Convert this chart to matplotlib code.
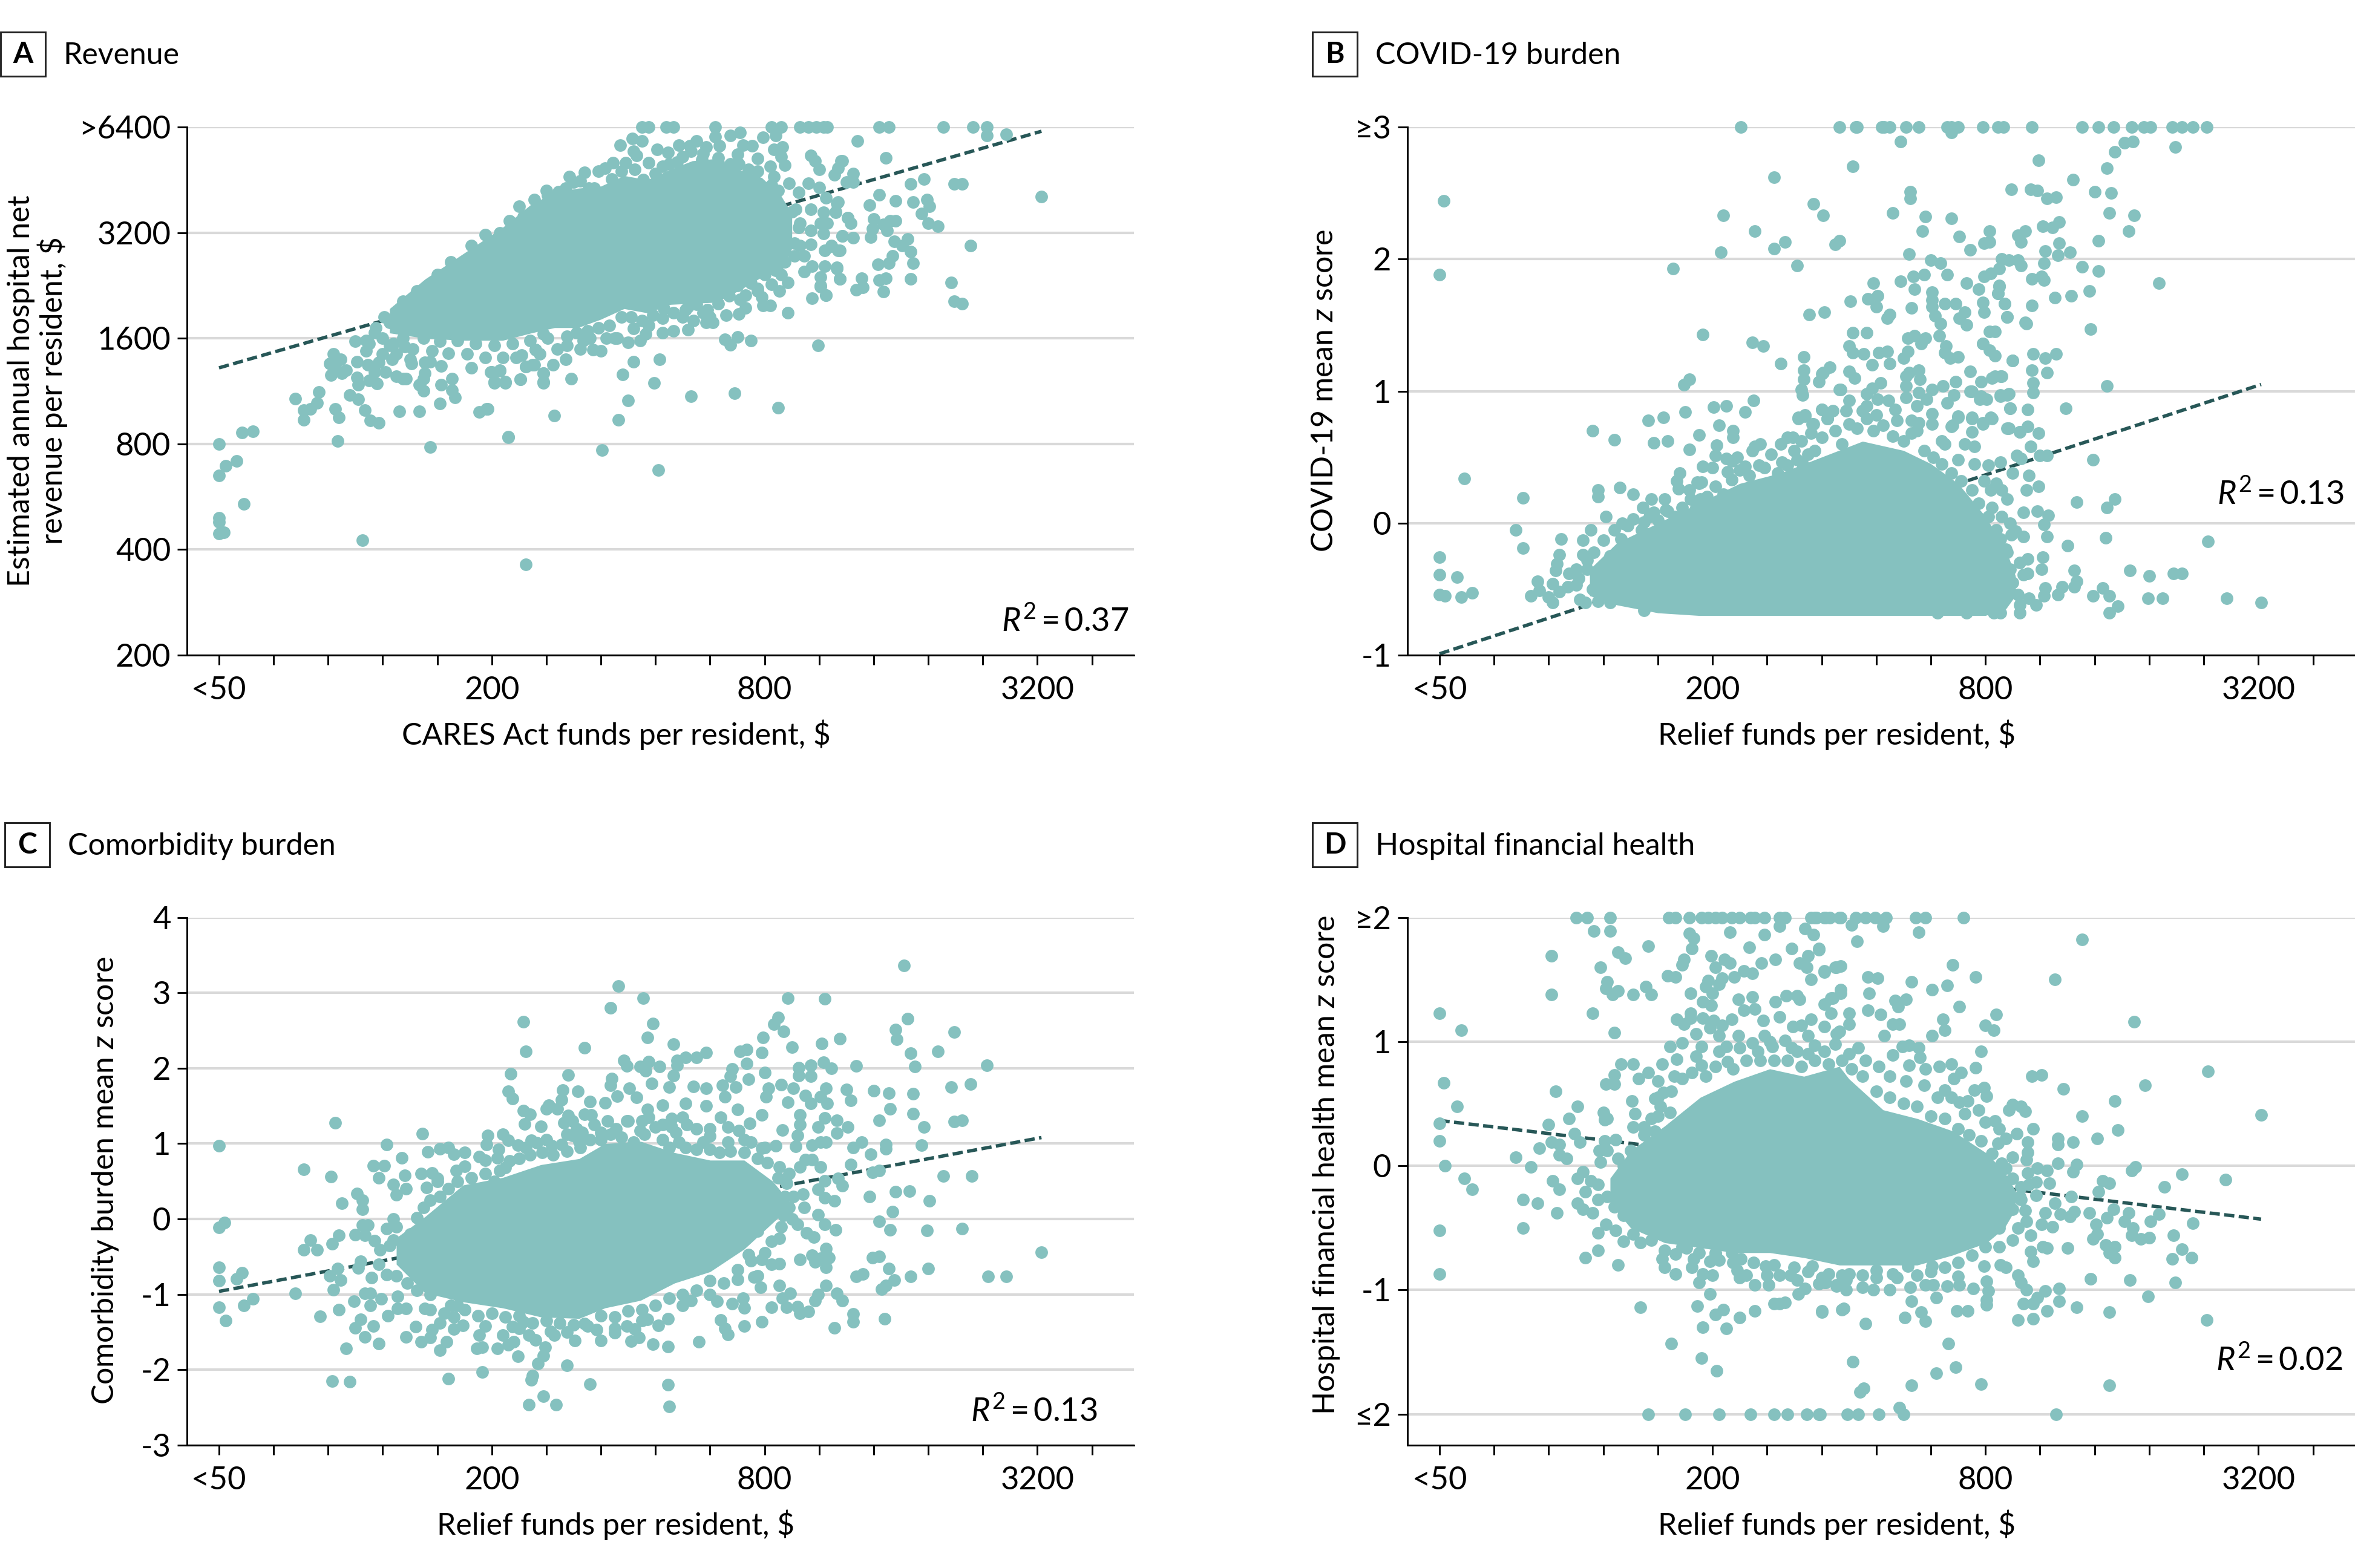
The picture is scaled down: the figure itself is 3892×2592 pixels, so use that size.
import numpy as np
import matplotlib
matplotlib.use("Agg")
import matplotlib.pyplot as plt
from matplotlib.patches import Rectangle

W, H = 3892, 2592
TEAL = "#85c1bf"
DARK = "#275757"

plt.rcParams["font.family"] = ["Lato", "Open Sans", "DejaVu Sans"]
plt.rcParams["mathtext.fontset"] = "custom"
plt.rcParams["mathtext.rm"] = "Lato"
plt.rcParams["mathtext.it"] = "Lato:italic"

# all funds / revenue values are kept as doublings: funds = 50 * 2**u, revenue = 200 * 2**v
x_ticks_u = [0, 2, 4, 6]
x_ticklabels = ["<50", "200", "800", "3200"]
minor_u = [0.4, 0.8, 1.2, 1.6, 2.4, 2.8, 3.2, 3.6, 4.4, 4.8, 5.2, 5.6, 6.4]

# panel A: (u, v)
a_points = [(0,2.0),(0,1.70),(.05,1.79),(.13,1.84),(.17,2.11),(.25,2.12),(0,1.30),(0,1.26),(0,1.15),(.035,1.16),(.18,1.43),(1.05,1.09),(2.25,.86),(.87,2.03),(1.55,1.97),(2.12,2.06),(.56,2.43),(.73,2.49),(.72,2.39),(.67,2.33),(.62,2.32),(.62,2.23),(.85,2.33),(.88,2.25),(.96,2.46),(1.02,2.42),(1.07,2.32),(1.11,2.22),(1.17,2.20),(1.32,2.31),(1.47,2.31),(1.62,2.38),(1.73,2.44),(1.71,2.51),(1.71,2.62),(1.63,2.56),(1.63,2.74),(1.50,2.50),(1.47,2.56),(1.50,2.62),(1.51,2.67),(1.91,2.30),(1.96,2.33),(2.21,2.61),(2.02,2.58),(2.10,2.58),(2.0,2.68),(2.06,2.69),(2.25,2.73),(2.31,2.75),(2.32,2.89),(2.38,2.58),(2.38,2.67),(.82,2.65),(.90,2.67),(.81,2.76),(.84,2.85),(.89,2.80),(.85,2.73),(.93,2.70),(1.01,2.78),(1.0,2.97),(1.08,2.88),(1.08,2.98),(1.01,2.63),(1.02,2.56),(1.16,2.57),(1.10,2.60),(1.14,2.68),(1.22,2.68),(1.09,2.75),(1.17,2.77),(1.30,2.64),(1.35,2.62),(1.37,2.62),(1.27,2.80),(1.41,2.76),(1.36,2.92),(1.25,2.93),(1.14,3.05),(1.21,3.20),(1.51,2.77),
 (3.10,5),(3.15,5),(3.28,5),(3.33,5),(3.64,5),(4.05,5),(4.12,5),(4.26,5),(4.32,5),(4.38,5),(4.46,5),(4.43,5),(4.84,5),(4.91,5),(5.31,5),(5.53,5),(5.63,5),
 (2.94,4.83),(3.03,4.89),(3.10,4.87),(3.04,4.77),(3.06,4.73),(3.64,4.91),(3.82,4.95),(3.75,4.92),(3.99,4.90),(4.08,4.92),(4.13,4.81),(4.34,4.73),(4.37,4.68),(4.40,4.60),(4.56,4.68),(4.51,4.55),(4.60,4.48),(4.25,4.38),(4.32,4.47),(4.40,4.43),(4.45,4.33),(4.54,4.29),(4.52,4.20),(4.23,4.22),(4.34,4.22),(4.43,4.19),(4.61,4.14),(4.41,4.09),(4.26,4.09),(4.34,4.02),(4.46,4.09),(4.43,3.99),(4.57,3.97),(4.26,3.88),(4.34,3.89),(4.44,3.83),(4.49,3.88),(4.55,3.83),(4.29,3.78),(4.29,3.63),(4.35,3.68),(4.44,3.68),(4.41,3.58),(4.53,3.67),(4.55,3.56),(4.41,3.50),(4.45,3.41),(4.35,3.38),(4.17,3.24),(4.39,2.93),(3.90,2.98),(3.80,3.01),(3.75,2.94),(3.71,2.99),
 (4.10,2.34),(3.78,2.48),(3.46,2.45),(3.23,2.80),(3.04,2.78),(2.96,2.66),(3.19,2.58),(3.0,2.41),(2.93,2.23),(2.81,1.94),(3.22,1.75),(2.46,2.27),(2.12,2.07),(1.97,2.33),(2.58,2.62),(2.38,2.59),(2.38,2.67),(2.21,2.61),(2.10,2.59),(2.02,2.59),(2.06,2.70),(1.99,2.68),(2.25,2.73),(2.30,2.75),(2.54,2.80),(2.55,2.93),(2.32,2.89),(2.38,3.04),(2.74,2.89),(2.80,2.88),(2.67,2.98),(2.72,3.0),(2.84,3.0),(2.92,3.0),(3.0,2.96),(3.09,2.98),(3.13,3.04),(3.04,3.09),(3.25,3.05),(3.33,3.07),(3.25,3.19),(3.44,3.08),(3.48,3.17),(3.57,3.15),(3.62,3.15),(3.55,3.24),(3.44,3.30),(3.81,3.23),(3.86,3.29),(3.99,3.31),(4.04,3.31),(3.98,3.39),(3.95,3.47),(4.11,3.45),(4.17,3.53),(4.05,3.51),(3.80,3.50),(3.86,3.41),(3.93,3.72),(3.86,3.61),
 (2.57,4.53),(2.68,4.57),(2.65,4.49),(2.78,4.58),(2.83,4.61),(2.89,4.66),(2.98,4.66),(2.88,4.51),(3.11,4.50),(3.21,4.79),(3.29,4.76),(3.37,4.83),(3.45,4.82),(3.50,4.87),(3.46,4.77),(3.57,4.81),(3.67,4.82),(3.36,4.67),(3.15,4.66),(3.25,4.63),(3.20,4.56),(3.54,4.69),(3.66,4.71),(3.66,4.66),(3.84,4.83),(3.91,4.82),(3.80,4.74),(3.81,4.65),(3.95,4.70),(4.07,4.79),(4.12,4.72),(4.04,4.63),(4.15,4.64),(4.07,4.53),(4.18,4.47),(4.10,4.40),(2.41,4.35),(2.49,4.39),(2.31,4.31),(2.13,4.11),(2.23,4.15),(2.06,4.0),(2.54,4.42),(2.71,4.42),(2.75,4.42),
 (5.77,4.93),(5.63,4.92),(4.68,4.87),(4.89,4.71),(4.57,4.68),(4.54,4.61),(4.65,4.56),(4.65,4.48),(5.07,4.46),(5.17,4.51),(5.39,4.46),(5.45,4.46),(6.03,4.34),(4.84,4.36),(4.96,4.30),(5.09,4.29),(5.19,4.31),(5.21,4.25),(4.77,4.26),(4.53,4.28),(4.52,4.19),(4.61,4.14),(4.63,4.09),(4.80,4.13),(4.79,4.04),(5.15,4.18),(5.20,4.09),(5.27,4.06),(4.87,4.08),(4.92,4.11),(4.96,4.11),(4.90,4.02),(4.78,3.96),(4.65,3.95),(4.57,3.97),(5.51,3.88),(4.95,3.92),(5.05,3.94),(5.01,3.88),(5.07,3.82),(5.09,3.71),(4.94,3.78),(4.91,3.71),(4.83,3.70),(4.54,3.83),(4.49,3.87),(4.53,3.66),(4.55,3.56),(5.07,3.56),(5.37,3.53),(5.39,3.35),(5.45,3.33),(4.89,3.57),(4.84,3.55),(4.87,3.44),(4.71,3.57),(4.67,3.46),(4.72,3.48),(4.45,3.41),(4.41,3.49)]
# points on the ragged rim of the core
a_rim = [(1.28,2.95),(1.35,3.0),(1.42,2.9),(1.5,3.0),(1.56,2.88),(1.62,2.97),(1.68,2.86),(1.75,2.98),(1.82,2.85),(1.88,2.95),(1.95,2.82),(2.02,2.93),(2.08,2.82),(2.15,2.95),(2.22,2.84),(2.28,2.98),(2.35,2.85),(2.41,3.0),(2.48,2.9),(2.55,3.02),(2.62,3.05),(2.7,3.07),(2.78,3.1),(2.86,3.12),(2.95,3.2),(3.02,3.2),(3.1,3.17),(3.18,3.22),(3.26,3.28),(3.33,3.24),(3.42,3.27),(3.5,3.32),(3.58,3.27),(3.66,3.33),(3.74,3.4),(3.82,3.37),(3.9,3.52),(4.0,3.6),(4.08,3.64),(4.15,3.72),(4.22,3.9),(4.25,4.05),(4.2,4.2),(4.22,3.78),(1.15,3.1),(1.2,3.0),(1.1,2.95),(1.3,2.85),(1.4,2.8),(1.25,3.15),(1.35,3.35),(1.45,3.45),(1.6,3.6),(1.7,3.72),(1.85,3.88),(1.95,3.98),(2.2,4.25),(2.4,4.4),(2.6,4.48),(2.95,4.58),(3.05,4.6),(3.3,4.65),(3.4,4.72),(3.55,4.75),(3.75,4.65),(3.88,4.6),(3.95,4.58),(4.05,4.45),
 (1.2,2.85),(1.55,2.78),(1.85,2.72),(2.18,2.82),(2.45,2.75),(2.65,2.9),(2.9,3.0),(3.15,3.12),(3.4,3.2),(3.6,3.2),(3.72,3.22),(3.95,3.45),(4.12,3.6)]
# panel A: solid overplotted core, lower and upper edge per u
a_core_u = [1.25, 1.51, 1.79, 2.08, 2.29, 2.46, 2.63, 2.80, 2.97, 3.14, 3.31, 3.47, 3.64, 3.81, 3.98, 4.12, 4.2]
a_core_lo = [3.05, 3.0, 2.98, 2.98, 3.05, 3.10, 3.10, 3.18, 3.28, 3.24, 3.32, 3.33, 3.34, 3.45, 3.58, 3.62, 3.85]
a_core_hi = [3.28, 3.56, 3.80, 4.05, 4.27, 4.38, 4.42, 4.44, 4.54, 4.50, 4.60, 4.68, 4.70, 4.60, 4.52, 4.35, 4.18]
a_trend_u = [0, 6.03]
a_trend_v = [2.72, 4.96]

# panel B: (u, z)
b_points = [(2.21,3),(2.93,3),(3.06,3),(3.26,3),(3.30,3),(3.42,3),(3.51,3),(3.75,3),(3.80,3),(3.72,3),(3.98,3),(4.09,3),(4.13,3),(4.34,3),(4.71,3),(4.83,3),(4.94,3),(5.07,3),(5.16,3),(5.21,3),(5.37,3),(5.44,3),(5.52,3),(5.62,3),(3.05,3),(3.24,3),(3.75,2.96),(3.38,2.89),
 (.03,2.44),(0,1.88),(.18,.34),(.61,.19),(.56,-.05),(.61,-.19),(0,-.26),(0,-.39),(.13,-.41),(0,-.54),(.04,-.55),(.16,-.56),(.24,-.53),(.67,-.55),(.72,-.44),(.73,-.51),(.83,-.46),(.80,-.56),(.83,-.60),(.88,-.52),(.94,-.48),(.85,-.36),(.86,-.31),(.88,-.24),(.89,-.12),(1.05,-.13),(1.05,-.24),(1.13,-.22),(1.11,-.05),(1.22,.05),(1.0,-.35),(1.08,-.35),(1.0,-.47),(1.03,-.58),(1.07,-.60),(1.16,-.59),(1.16,.25),(1.16,.20),(1.12,.70),(1.28,.63),(1.32,.27),(1.42,.22),(1.34,0),(1.49,.12),(1.55,.18),(1.50,.01),(1.57,.08),(1.65,.18),(1.67,.09),(1.53,.78),(1.64,.80),(1.57,.61),(1.67,.62),(1.71,1.93),(1.79,1.05),(1.83,1.09),(1.80,.84),(1.83,.56),(1.90,.67),(1.93,1.43),(2.01,.88),(2.10,.89),(2.05,.74),(2.15,.70),(2.15,.65),(2.06,2.05),(2.08,2.33),(1.76,.38),(1.74,.32),(1.75,.26),(1.84,.18),(1.91,.18),(1.93,.43),(1.89,.31),(1.92,.31),(2.03,.59),(2.02,.51),(2.10,.49),(2.14,.47),(2.11,.39),(2.24,.84),(2.30,.93),(2.31,2.21),(2.29,1.37),(2.37,1.34),(2.45,2.08),(2.53,2.13),(2.45,2.62),(2.50,1.21),(2.62,1.95),(2.74,2.42),(2.81,2.33),(2.90,2.11),(2.93,2.14),(2.71,1.58),(2.82,1.60),(2.67,1.26),(2.67,1.16),(2.67,1.09),(2.65,1.01),(2.66,.97),(2.78,1.07),(2.81,1.14),(2.86,1.18),(2.93,1.01),(2.63,.80),(2.68,.81),(2.80,.86),(2.84,.79),(2.50,.60),(2.59,.65),(2.29,.55),(2.31,.58),(2.73,.75),(2.72,.68),(2.51,.46),(2.62,.48),(2.70,.52),(2.24,.43),(2.34,.44),
 (3.03,2.70),(3.45,2.51),(3.45,2.46),(4.19,2.53),(3.32,2.35),(3.56,2.32),(3.54,2.21),(3.75,2.31),(3.81,2.17),(4.03,2.21),(4.03,2.13),(3.99,2.12),(3.89,2.07),(4.24,2.18),(4.29,2.21),(4.26,2.13),(3.44,2.04),(3.60,1.99),(3.67,1.97),(3.72,1.88),(3.55,1.88),(3.47,1.87),(3.38,1.83),(3.48,1.77),(3.18,1.82),(3.21,1.72),(3.14,1.70),(3.20,1.64),(3.01,1.68),(3.86,1.82),(3.61,1.75),(3.61,1.69),(3.61,1.64),(3.63,1.57),(3.70,1.66),(3.78,1.66),(3.85,1.60),(3.81,1.55),(3.86,1.50),(3.67,1.51),(3.46,1.63),(3.30,1.58),(3.28,1.55),(3.03,1.44),(3.13,1.44),(3.0,1.34),(3.03,1.29),(3.11,1.28),(3.22,1.29),(3.28,1.30),(3.17,1.20),(3.30,1.21),(3.43,1.40),(3.48,1.42),(3.56,1.40),(3.53,1.36),(3.43,1.30),(3.40,1.25),(3.66,1.42),(3.71,1.34),(3.70,1.29),(3.74,1.25),(3.80,1.26),(3.98,1.36),(4.03,1.31),(4.07,1.27),(4.03,1.45),(4.07,1.45),(4.10,1.80),(4.09,1.74),(3.98,1.67),(3.99,1.60),(4.14,1.66),(4.16,1.56),(3.95,1.77),(3.99,1.87),(4.04,1.89),(4.10,1.93),(4.12,2.0),(4.17,1.99),(4.24,1.99),(4.26,1.95),(4.29,1.52),(4.20,1.23),(3.89,1.15),(3.78,1.07),(3.97,1.07),(4.07,1.11),(4.12,1.11),(3.0,1.15),(3.04,1.10),(2.94,1.01),(2.80,1.13),(3.44,1.14),(3.51,1.16),(3.42,1.11),(3.52,1.09),(3.42,1.04),(3.51,.99),(3.42,.95),(3.57,.94),(3.61,1.01),(3.69,1.04),(3.77,.97),(3.72,.91),(3.61,.83),(3.50,.89),(3.51,.76),(3.46,.78),(3.61,.75),(3.89,1.0),(3.96,.94),(4.01,.94),(4.11,.96),(4.17,.98),(4.18,.87),(3.80,.81),(3.76,.74),(3.90,.79),(3.98,.76),(4.05,.79),(3.90,.69),(4.17,.72),(4.25,.69),(3.13,.98),(3.17,1.02),(3.23,1.06),(3.13,.89),(3.13,.79),(3.21,.94),(3.29,.93),(3.34,.86),(3.0,.93),(2.80,.86),(2.84,.79),(2.63,.79),(2.68,.82),(2.74,.75),
 (5.39,2.85),(5.08,2.89),(5.02,2.88),(4.95,2.81),(4.89,2.69),(4.39,2.75),(4.64,2.60),(4.33,2.53),(4.38,2.52),(4.45,2.46),(4.52,2.47),(4.80,2.51),(4.92,2.50),(4.91,2.35),(5.09,2.33),(5.05,2.21),(4.83,2.14),(4.42,2.25),(4.49,2.24),(4.54,2.28),(4.54,2.12),(4.44,2.06),(4.53,2.03),(4.62,2.05),(4.43,1.97),(4.71,1.94),(4.83,1.91),(5.27,1.82),(4.34,1.85),(4.41,1.87),(4.43,1.84),(4.76,1.76),(4.51,1.71),(4.63,1.72),(4.34,1.65),(4.77,1.47),(4.30,1.51),(4.16,1.56),(4.14,1.66),(4.09,1.74),(4.10,1.79),(4.35,1.28),(4.52,1.28),(4.44,1.25),(4.20,1.23),(3.98,1.36),(4.34,1.16),(4.45,1.14),(4.35,1.06),(4.35,.99),(4.31,.86),(4.59,.87),(4.89,1.04),(4.11,1.11),(4.05,1.10),(4.11,.97),(4.16,.97),(4.18,.87),(3.97,.96),(3.90,1.0),(3.90,.80),(3.98,.75),(4.04,.80),(3.80,.80),(3.75,.73),(4.16,.72),(4.25,.69),(4.31,.73),(4.39,.68),(4.33,.58),(4.40,.51),(4.45,.51),(4.23,.51),(4.26,.49),(4.11,.46),(4.02,.44),(4.20,.38),(4.32,.36),(4.39,.28),(4.30,.25),(4.16,.18),(4.12,.25),(4.04,.25),(3.99,.32),(4.67,.16),(4.89,.12),(4.95,.18),(4.79,.48),(4.28,.08),(4.38,.09),(4.46,.06),(4.43,-.01),(4.45,-.10),(4.22,-.06),(4.19,-.09),(4.11,-.12),(4.88,-.11),(4.60,-.17),(5.63,-.14),(4.16,-.22),(4.31,-.27),(4.42,-.26),(4.28,-.39),(4.31,-.38),(4.41,-.35),(4.65,-.36),(5.06,-.36),(5.20,-.40),(5.38,-.38),(5.44,-.38),(4.44,-.49),(4.43,-.55),(4.53,-.54),(4.56,-.48),(4.65,-.48),(4.67,-.44),(4.79,-.55),(4.86,-.49),(4.91,-.55),(5.19,-.57),(5.30,-.57),(5.77,-.57),(6.02,-.60),(4.91,-.68),(4.97,-.63),(4.37,-.62),(4.32,-.57),(4.24,-.54),(4.25,-.68),(4.25,-.62),(4.06,-.68),(4.11,-.68),(4.01,-.63),(3.86,-.68),(3.65,-.68),(4.16,-.51)]
b_rim = [(.95,-.38),(1.02,-.42),(1.08,-.28),(1.12,-.5),(1.17,-.38),(1.2,-.13),(1.25,-.25),(1.28,-.05),(1.33,-.12),(1.38,-.02),(1.42,.03),(1.48,-.05),(1.54,.05),(1.6,.02),(1.66,.1),(1.72,.05),(1.78,.12),(1.83,.25),(1.88,.12),(1.96,.2),(2.02,.28),(2.08,.22),(2.14,.33),(2.2,.4),(2.27,.36),(2.38,.42),(2.43,.52),(2.48,.38),(2.55,.44),(2.6,.55),(2.66,.45),(2.75,.55),(2.8,.65),(2.9,.7),(2.95,.6),(3.0,.75),(3.06,.72),(3.18,.7),(3.25,.74),(3.32,.66),(3.4,.62),(3.46,.68),(3.55,.55),(3.62,.5),(3.68,.45),(3.75,.38),(3.82,.32),(3.9,.25),(3.95,.15),(4.02,.05),(4.08,-.05),(4.15,-.2),(4.18,-.35),(4.2,-.45),(4.12,.05),(3.85,.6),(3.7,.6),(4.05,.12),(1.25,-.6),(1.5,-.66),(1.2,-.42),
 (1.9,.3),(2.0,.42),(2.18,.5),(2.35,.6),(2.55,.65),(2.65,.62),(2.88,.85),(2.98,.85),(3.1,.85),(3.2,.82),(3.35,.78),(3.5,.7),(3.68,.62),(3.8,.48),(3.92,.45),(4.08,.3),(4.18,.0),(4.25,-.3),(4.28,-.1),(3.92,.58)]
b_core_u = [1.1, 1.3, 1.6, 1.9, 2.2, 2.5, 2.8, 3.1, 3.4, 3.6, 3.8, 4.0, 4.15, 4.22]
b_core_lo = [-.55, -.62, -.68, -.70, -.70, -.70, -.70, -.70, -.70, -.70, -.70, -.70, -.65, -.55]
b_core_hi = [-.35, -.15, 0, .15, .30, .38, .50, .62, .55, .45, .30, .05, -.20, -.40]
b_trend_u = [0, 6.02]
b_trend_z = [-.99, 1.05]

# panel C: (u, z)
c_points = [(0,.97),(0,-.11),(.04,-.05),(0,-.64),(0,-.82),(.17,-.71),(.13,-.79),(0,-1.17),(.05,-1.35),(.18,-1.15),(.25,-1.06),(.56,-.99),(.62,.66),(.67,-.28),(.62,-.41),(.72,-.41),(.82,.56),(.85,1.28),(.83,-.33),(.88,-.22),(.90,.21),(.81,-.75),(.87,-.66),(.89,-.81),(.84,-.94),(.74,-1.29),(.88,-1.20),(.99,-1.09),(.93,-1.72),(.83,-2.15),(.96,-2.16),(1.01,.34),(1.05,.25),(1.05,.13),(1.13,.71),(1.21,.71),(1.17,.55),(1.23,.99),(1.0,-.21),(1.05,-.08),(1.09,-.08),(1.07,-.22),(1.14,-.29),(1.04,-.56),(1.02,-.65),(1.12,-.78),(1.17,-.60),(1.07,-.99),(1.11,-.99),(1.11,-1.15),(1.19,-1.06),(1.04,-1.33),(1.0,-1.44),(1.07,-1.56),(1.13,-1.42),(1.17,-1.65),(1.23,-.13),(1.28,-.28),(1.18,-.41),(1.23,-.74),(1.28,0),(1.28,.46),(1.30,.32),(1.37,.40),(1.34,.81),(1.36,.58),(1.49,1.13),(1.53,.89),(1.48,.60),(1.56,.61),(1.60,.54),(1.52,.42),(1.62,.93),(1.68,.95),(1.72,.86),(1.80,.88),(1.74,.64),(1.91,.83),(1.97,1.11),(1.96,.99),(2.08,1.12),(2.12,1.04),(2.19,.98),(2.04,.81),(2.13,.77),(2.06,.64),(2.23,2.62),(2.25,2.22),(2.14,1.93),(2.12,1.69),(2.15,1.60),(2.23,1.44),(2.28,1.39),(2.24,1.26),(2.36,1.23),(2.29,1.04),(2.33,1.01),(2.40,1.46),(2.42,1.51),(2.48,1.46),(2.56,1.91),(2.52,1.71),(2.51,1.58),(2.68,2.27),(2.63,1.69),(2.72,1.56),(2.56,1.37),(2.53,1.28),(2.59,1.30),(2.68,1.39),(2.73,1.38),(2.83,1.54),(2.59,1.11),(2.66,1.15),(2.80,1.15),(2.64,1.03),(2.44,.97),(2.51,.99),
 (1.31,-1.03),(1.24,-1.28),(1.31,-1.19),(1.37,-1.19),(1.44,-1.43),(1.37,-1.56),(1.48,-1.63),(1.55,-1.57),(1.56,-1.47),(1.51,-1.19),(1.62,-1.38),(1.62,-1.74),(1.67,-1.63),(1.68,-2.12),(1.72,-1.46),(1.75,-1.15),(1.79,-1.41),(1.93,-2.03),(1.91,-1.54),(1.89,-1.72),(1.93,-1.70),(2.04,-1.72),(2.08,-1.54),(2.12,-1.67),(2.16,-1.63),(2.19,-1.82),(2.15,-1.43),(2.23,-1.36),(2.27,-1.54),(2.32,-1.60),(2.39,-1.70),(2.38,-1.81),(2.34,-1.92),(2.30,-2.08),(2.29,-2.13),(2.27,-2.46),(2.38,-2.35),(2.47,-2.46),(2.55,-1.94),(2.72,-2.19),(2.61,-1.61),(2.80,-1.61),(2.43,-1.49),(2.46,-1.54),(2.77,-1.47),(2.68,-1.39),
 (5.02,3.36),(2.93,3.09),(3.11,2.93),(2.87,2.80),(4.17,2.93),(4.44,2.92),(3.18,2.59),(3.14,2.41),(3.33,2.32),(3.57,2.21),(3.50,2.14),(3.42,2.14),(3.36,2.10),(3.36,2.04),(2.97,2.10),(2.99,2.03),(3.09,2.02),(3.15,2.09),(3.13,1.97),(3.23,2.02),(2.88,1.86),(2.87,1.77),(3.01,1.73),(3.06,1.61),(2.92,1.63),(3.17,1.80),(3.33,1.90),(3.30,1.75),(3.48,1.76),(3.57,1.73),(3.69,1.77),(3.71,1.62),(3.82,2.22),(3.87,2.25),(3.98,2.21),(3.99,2.41),(3.87,2.06),(3.76,1.99),(3.75,1.89),(3.88,1.85),(3.79,1.75),(4.0,1.94),(4.03,1.73),(4.01,1.62),(4.12,1.78),(4.21,1.73),(4.07,2.58),(4.10,2.67),(4.14,2.49),(4.20,2.28),(4.42,2.33),(4.55,2.39),(4.25,2.01),(4.34,2.04),(4.43,2.08),(4.49,2.0),(4.67,2.03),(4.25,1.90),(4.34,1.89),(4.45,1.73),(4.60,1.72),(4.80,1.70),(4.91,1.67),(4.63,1.57),(4.30,1.64),(4.41,1.62),(4.46,1.53),(4.17,1.55),(4.34,1.53),(4.53,1.31),(4.61,1.22),(4.53,1.14),(4.44,1.34),(4.39,1.22),(4.26,1.38),(4.26,1.25),(4.24,1.11),(4.35,.98),(4.41,1.02),(4.45,1.02),(4.23,.96),(4.65,.95),(4.71,1.02),(4.78,.86),(4.89,.99),(4.89,.93),(5.15,.98),(4.92,1.46),(4.84,1.31),(5.09,1.40),(5.17,1.22),(5.09,1.66),(5.37,1.75),(5.51,1.79),(5.63,2.04),(5.39,2.48),(5.27,2.22),(5.07,2.20),(5.10,2.02),(5.05,2.66),(4.96,2.51),(4.97,2.38),(5.39,1.29),(5.45,1.31),(5.31,.57),(5.52,.57),(4.63,.72),(4.79,.62),(4.84,.64),(4.41,.69),(4.26,.69),(4.30,.79),(4.35,.79),(4.44,.51),(4.54,.54),(4.57,.44),(4.77,.30),(4.96,.36),(5.06,.37),(5.21,.24),(4.94,.10),(4.84,-.03),(4.92,-.14),(5.19,-.15),(5.45,-.13),(6.03,-.44),(4.44,.28),(4.51,.24),(4.39,.39),(4.28,.33),(4.29,.15),(4.21,.30),(4.16,.47),(4.39,.06),(4.44,-.07),(4.52,-.14),(4.24,-.07),(4.31,-.18),(4.36,-.24),(4.45,-.39),(4.35,-.48),(4.41,-.52),(4.47,-.51),(4.37,-.57),(4.45,-.64),(4.26,-.54),(4.79,-.51),(4.84,-.50),(4.91,-.66),(5.07,-.76),(5.20,-.66),(5.64,-.76),(5.77,-.76),(4.67,-.76),(4.72,-.73),(4.95,-.81),(4.89,-.88),(4.86,-.93),(4.45,-.88),(4.39,-1.0),(4.37,-1.08),(4.53,-.99),(4.57,-1.08),(4.19,-.99),(4.13,-1.05),(4.24,-1.16),(4.16,-1.17),(4.05,-1.17),(4.26,-1.25),(4.32,-1.23),(3.98,-1.36),(3.85,-1.42),(3.85,-1.18),(3.84,-1.05),(3.76,-1.12),(3.65,-1.09),(3.68,-1.34),(3.71,-1.45),(3.73,-1.53),(3.52,-1.63),(3.46,-1.08),(3.29,-1.32),(3.14,-1.33),(3.22,-1.41),(2.99,-1.42),(3.05,-1.46),(3.08,-1.57),(3.02,-1.62),(2.90,-1.51),(3.18,-1.66),(3.29,-1.69),(3.29,-2.20),(3.30,-2.49),(4.51,-1.44),(4.65,-1.36),(4.65,-1.26),(4.88,-1.32),(3.97,-.91),(4.11,-.88),(3.92,-.77),(4.11,-.59),(3.98,-.54),(3.80,-.67),(3.88,-.47),(4.11,-.26),(3.95,-.16),(4.14,.05),(4.0,.07),(3.99,.35),(4.11,.69),
 (3.98,1.38),(4.13,1.18),(3.89,1.27),(3.81,1.17),(3.73,1.22),(3.60,1.20),(3.50,1.20),(3.43,1.25),(3.32,1.22),(3.20,1.22),(3.09,1.17),(2.99,1.30),(2.91,1.20),(3.25,1.51),(3.42,1.53),(3.57,1.50),(3.80,1.45),(3.14,1.45),(3.15,1.35),(3.32,1.33),(3.68,1.35),(3.73,1.02),(3.90,1.02),(3.55,1.02),(3.37,1.02),(4.08,.97),(3.98,.94)]
c_rim = [(1.25,-.35),(1.3,-.1),(1.35,-.5),(1.3,-.75),(1.38,-.85),(1.4,-.2),(1.45,.02),(1.5,.15),(1.55,.25),(1.45,-.95),(1.55,-1.0),(1.62,.3),(1.68,.4),(1.75,.5),(1.85,.55),(1.95,.6),(2.02,.5),(2.1,.68),(2.2,.8),(2.28,.85),(2.37,.88),(2.45,.85),(2.55,.9),(2.65,.95),(2.72,1.05),(2.8,1.05),(2.87,1.12),(2.95,1.08),(3.04,1.02),(3.12,1.12),(3.25,1.05),(3.3,.95),(3.42,.95),(3.5,.92),(3.6,.92),(3.67,.88),(3.75,.9),(3.85,.88),(3.95,.8),(4.02,.75),(4.1,.55),(4.15,.3),(4.18,.15),(4.2,.0),(4.1,.1),(4.12,-.1),(4.05,-.3),(4.0,-.45),(3.9,-.55),(3.8,-.8),(3.7,-.85),(3.6,-.82),(3.5,-.95),(3.4,-1.0),(3.3,-1.05),(3.2,-1.15),(3.1,-1.2),(3.0,-1.22),(2.9,-1.3),(2.8,-1.28),(2.7,-1.42),(2.6,-1.4),(2.5,-1.38),(2.4,-1.35),(2.3,-1.38),(2.2,-1.28),(2.1,-1.3),(2.0,-1.25),(1.9,-1.28),(1.8,-1.2),(1.7,-1.15),(1.65,-1.25),(2.75,1.25),(3.0,1.3),(3.25,1.25),(3.4,1.35),
 (1.6,.5),(1.8,.7),(1.95,.78),(2.05,.92),(2.25,.95),(2.4,1.05),(2.55,1.12),(2.62,1.2),(2.85,1.3),(3.1,1.3),(3.35,1.15),(3.6,1.1),(3.85,1.05),(4.0,.95),(4.18,.6),(4.05,-.6),(3.95,-.75),(3.6,-1.0),(3.4,-1.15),(3.1,-1.35),(2.9,-1.45),(2.55,-1.5),(2.2,-1.45),(1.95,-1.42),(1.72,-1.3),(1.55,-1.2)]
c_core_u = [1.3, 1.51, 1.79, 2.08, 2.36, 2.64, 2.83, 3.09, 3.34, 3.6, 3.85, 4.06, 4.15]
c_core_lo = [-.60, -.98, -1.10, -1.18, -1.30, -1.32, -1.18, -1.08, -.85, -.70, -.40, -.05, .10]
c_core_hi = [-.25, .03, .45, .55, .72, .80, 1.00, 1.03, .88, .78, .78, .50, .30]
c_trend_u = [0, 6.03]
c_trend_z = [-.96, 1.08]

# panel D: (u, z)
d_points = [(1.0,2),(1.08,2),(1.25,2),(1.68,2),(1.73,2),(1.83,2),(1.92,2),(1.97,2),(2.02,2),(2.07,2),(2.14,2),(2.20,2),(2.28,2),(2.31,2),(2.38,2),(2.49,2),(2.53,2),(2.72,2),(2.75,2),(2.82,2),(2.86,2),(2.93,2),(2.76,2),(2.83,2),(2.94,2),(3.05,2),(3.12,2),(3.19,2),(3.27,2),(3.49,2),(3.56,2),(3.84,2),
 (1.13,1.89),(1.25,1.89),(.82,1.69),(.82,1.38),(0,1.23),(.16,1.09),(.03,.67),(.13,.48),(0,.34),(0,.20),(.04,0),(.18,-.10),(.24,-.19),(0,-.52),(0,-.87),(.56,.07),(.67,-.01),(.61,-.27),(.72,-.30),(.61,-.50),(.83,-.12),(.88,-.19),(.86,-.38),(.73,.14),(.80,.33),(.85,.60),(.82,.19),(.88,.17),(.88,.09),(.93,.06),(.95,.38),(1.01,.48),(.99,.26),(1.03,.19),(1.01,-.10),(1.05,-.05),(1.11,-.12),(1.16,-.15),(1.07,-.21),(1.01,-.30),(1.05,-.35),(1.12,-.38),(1.16,-.27),(1.23,-.25),(1.28,-.33),(1.22,-.47),(1.16,-.54),(1.29,-.52),(1.35,-.61),(1.16,-.68),(1.07,-.74),(1.31,-.80),(1.12,1.23),(1.18,1.60),(1.23,1.48),(1.22,1.43),(1.27,1.38),(1.31,1.41),(1.31,1.72),(1.36,1.67),(1.42,1.38),(1.53,1.77),(1.51,1.44),(1.55,1.38),(1.28,1.07),(1.33,.82),(1.42,.82),(1.28,.73),(1.22,.66),(1.28,.66),(1.46,.70),(1.53,.75),(1.41,.52),(1.43,.42),(1.20,.43),(1.23,.38),(1.21,.37),(1.17,.12),(1.23,.12),(1.21,.20),(1.29,.21),(1.18,.03),(1.31,.06),(1.42,.31),(1.50,.31),(1.58,.28),(1.63,.82),(1.60,.68),(1.64,.59),(1.58,.54),(1.60,.40),(1.69,.43),(1.69,.96),(1.67,1.53),(1.73,1.52),(1.78,1.62),(1.79,1.66),(1.83,1.87),(1.86,1.83),(1.85,1.75),(1.84,1.39),(1.95,1.44),(1.97,1.49),(2.0,1.39),(1.99,1.69),(2.02,1.60),(2.07,1.51),(2.05,1.46),(2.09,1.66),(2.13,1.63),(2.13,1.88),(2.16,1.52),(2.23,1.57),(2.29,1.55),(2.36,1.63),(2.27,1.76),(2.38,1.86),(2.46,1.66),(2.58,1.75),(2.49,1.93),(2.68,1.91),(2.74,1.86),(2.78,1.75),(2.70,1.69),(2.64,1.63),(2.69,1.60),(2.72,1.50),(2.82,1.57),(2.90,1.60),(2.94,1.61),(1.93,1.32),(1.99,1.29),(2.19,1.34),(2.29,1.36),(2.46,1.32),(2.54,1.37),(2.62,1.37),(2.64,1.34),(2.23,1.25),(2.31,1.26),(1.84,1.23),(1.74,1.18),(1.79,1.14),(1.84,1.19),(1.93,1.19),(2.01,1.17),(2.14,1.18),(2.07,1.13),(1.88,1.06),(1.98,1.11),(2.05,1.05),(2.19,1.05),(2.38,1.05),(2.37,1.17),(2.49,1.20),(2.59,1.12),(2.72,1.18),(2.82,1.30),(2.87,1.35),(2.94,1.39),(2.87,1.23),(2.82,1.12),(2.65,1.13),(2.70,1.05),(2.91,1.06),(1.78,.99),(1.92,.96),(2.10,.96),(2.29,.99),(2.53,1.01),(2.44,.96),(2.62,.92),(2.75,.97),(2.82,.92),(2.11,.84),(1.92,.81),(1.74,.86),
 (1.47,-1.14),(1.63,-.75),(1.65,-.82),(1.73,-.87),(1.70,-1.43),(1.92,-1.55),(2.03,-1.65),(1.89,-1.13),(1.93,-1.30),(2.02,-1.20),(2.08,-1.16),(2.10,-1.31),(2.20,-1.22),(2.31,-1.17),(1.98,-1.03),(1.90,-.94),(1.93,-.87),(1.86,-.75),(1.98,-.77),(2.05,-.76),(2.02,-.71),(2.18,-.84),(2.25,-.88),(2.31,-.96),(2.41,-.96),(2.49,-.88),(2.45,-1.11),(2.49,-1.11),(2.53,-1.10),(2.63,-1.03),(2.68,-.99),(2.80,-.90),(2.83,-.94),(2.91,-.97),(2.80,-1.18),(2.95,-1.16),(1.81,-.66),(1.73,-.71),(2.14,-.70),(2.21,-.75),(2.39,-.81),(2.57,-.88),(2.73,-.81),
 (1.53,-2),(1.80,-2),(2.05,-2),(2.28,-2),(2.45,-2),(2.55,-2),(2.69,-2),(2.78,-2),(2.99,-2),(2.79,-2),(3.07,-2),(3.22,-2),(3.40,-2),(4.52,-2),(3.37,-1.95),
 (3.02,1.94),(3.25,1.93),(3.51,1.88),(3.06,1.81),(2.78,1.74),(4.71,1.82),(3.76,1.62),(3.93,1.52),(4.51,1.50),(2.91,1.60),(2.82,1.56),(3.14,1.52),(3.21,1.51),(3.46,1.48),(3.61,1.42),(3.72,1.45),(2.94,1.42),(2.88,1.35),(3.15,1.39),(3.34,1.33),(3.42,1.34),(3.36,1.28),(3.81,1.28),(4.08,1.22),(5.09,1.16),(3.69,1.18),(3.70,1.09),(3.61,1.05),(4.0,1.13),(4.06,1.09),(3.0,1.23),(3.14,1.25),(3.23,1.22),(3.32,1.14),(3.37,1.14),(3.0,1.14),(2.93,1.08),(3.26,1.05),(3.39,.96),(3.44,.97),(3.51,.95),(3.07,.95),(3.97,.92),(3.93,.79),(3.52,.87),(3.56,.78),(3.66,.80),(3.75,.82),(3.82,.75),(3.77,.70),(3.32,.89),(3.44,.81),(4.34,.72),(4.41,.73),(4.57,.62),(5.63,.76),(5.17,.65),(4.95,.52),(4.71,.40),(6.02,.41),(4.97,.29),(4.82,.22),(3.92,.61),(3.99,.63),(4.01,.56),(3.70,.61),(4.20,.49),(4.26,.48),(4.17,.45),(4.29,.44),(3.81,.51),(3.87,.52),(4.07,.36),(3.95,.45),(4.35,.30),(4.23,.26),(4.15,.22),(4.09,.18),(4.31,.19),(4.31,.11),(4.53,.22),(4.53,.17),(4.64,.19),(4.20,.07),(4.53,.02),(4.67,.01),(4.64,-.05),(5.07,-.04),(5.10,-.01),(5.44,-.07),(5.31,-.17),(5.76,-.11),(4.86,-.12),(4.91,-.14),(4.83,-.21),(4.63,-.25),(4.38,-.02),(4.45,-.04),(4.31,-.06),(4.47,-.14),(4.37,-.13),(4.26,-.17),(4.15,-.02),(4.26,-.27),(4.37,-.24),(4.51,-.30),(4.29,-.36),(4.44,-.38),(4.55,-.39),(4.62,-.41),(4.65,-.37),(4.76,-.38),(4.94,-.35),(5.05,-.38),(5.27,-.39),(4.89,-.42),(5.02,-.45),(5.21,-.45),(5.52,-.46),(4.81,-.47),(4.41,-.47),(4.49,-.49),(4.24,-.50),(4.33,-.56),(4.82,-.55),(5.08,-.50),(5.07,-.56),(5.14,-.59),(5.20,-.58),(5.38,-.56),(4.79,-.59),(4.42,-.65),(4.45,-.66),(4.60,-.66),(4.33,-.69),(4.88,-.64),(4.95,-.65),(4.91,-.70),(4.95,-.74),(4.35,-.77),(5.44,-.67),(5.37,-.75),(5.51,-.74),(4.15,-.82),(4.11,-.80),(4.24,-.88),(4.26,-.94),(4.77,-.91),(5.06,-.92),(5.39,-.94),(5.19,-1.05),(4.01,-.93),(4.02,-1.01),(4.01,-1.08),(4.01,-1.12),(3.91,-.99),(3.81,-.96),(3.72,-.97),(3.62,-.96),(3.56,-.96),(3.64,-1.06),(3.46,-1.09),(3.18,-1.0),(2.98,-1.0),(2.91,-.96),(2.82,-.94),(4.30,-1.0),(4.44,-1.01),(4.54,-.99),(4.54,-1.09),(4.38,-1.06),(4.28,-1.11),(4.35,-1.11),(4.45,-1.17),(4.67,-1.14),(4.91,-1.18),(4.35,-1.23),(4.24,-1.24),(5.62,-1.24),(2.80,-1.17),(2.96,-1.15),(3.12,-1.27),(3.41,-1.22),(3.53,-1.18),(3.56,-1.25),(3.79,-1.17),(3.87,-1.17),(3.73,-1.43),(3.03,-1.58),(3.64,-1.67),(3.78,-1.62),(3.11,-1.79),(3.08,-1.82),(3.46,-1.77),(3.97,-1.76),(4.91,-1.77),(3.0,-.87),(3.32,-.87),(3.43,-.81),(3.61,-.81),(3.80,-.89),(3.99,-.81),(3.20,-.84)]
d_rim = [(1.3,-.2),(1.35,.0),(1.4,.12),(1.35,-.4),(1.42,-.55),(1.5,.25),(1.55,.38),(1.62,.48),(1.7,.6),(1.78,.7),(1.85,.75),(1.95,.72),(2.02,.8),(2.15,.78),(2.25,.85),(2.35,.85),(2.45,.85),(2.55,.85),(2.65,.8),(2.75,.85),(2.85,.82),(2.95,.85),(3.02,.78),(3.1,.72),(3.2,.6),(3.3,.55),(3.4,.5),(3.5,.48),(3.6,.4),(3.7,.38),(3.8,.3),(3.88,.25),(3.97,.2),(4.05,.1),(4.12,.02),(4.2,-.1),(4.25,-.25),(4.2,-.35),(4.1,-.5),(4.0,-.65),(3.9,-.72),(3.8,-.78),(3.7,-.82),(3.6,-.85),(3.5,-.88),(3.35,-.9),(3.2,-.9),(3.1,-.88),(2.95,-.88),(2.85,-.87),(2.7,-.85),(2.6,-.82),(2.45,-.8),(2.3,-.78),(2.15,-.78),(2.02,-.7),(1.9,-.7),(1.78,-.65),(1.65,-.68),(1.55,-.6),(1.47,-.62),
 (1.6,.55),(1.72,.72),(1.88,.88),(2.05,.92),(2.2,.95),(2.33,.92),(2.42,1.0),(2.58,.95),(2.7,.9),(2.9,.98),(3.0,.9),(3.12,.85),(3.22,.8),(3.3,.72),(3.42,.68),(3.55,.65),(3.65,.55),(3.75,.55),(3.85,.42),(4.0,.35),(4.1,.3),(3.45,-.98),(3.3,-1.0),(3.1,-.98),(2.98,-.92),(2.78,-.95),(2.62,-.92),(2.4,-.88),(2.2,-.9),(2.0,-.88),(1.85,-.82),(4.1,-.65),(4.2,-.6),(4.3,-.45),(4.32,-.15),(4.3,.05)]
d_core_u = [1.25, 1.4, 1.65, 1.91, 2.16, 2.42, 2.67, 2.93, 3.0, 3.25, 3.5, 3.76, 4.01, 4.14, 4.22]
d_core_lo = [-.30, -.50, -.62, -.66, -.70, -.70, -.74, -.80, -.80, -.80, -.80, -.72, -.62, -.50, -.35]
d_core_hi = [-.10, .12, .32, .55, .68, .78, .72, .80, .70, .45, .38, .28, .10, -.05, -.20]
d_trend_u = [0, 6.02]
d_trend_z = [.365, -.43]


def to_funds(u):
    return 50 * 2.0 ** np.asarray(u)


def to_rev(v):
    return 200 * 2.0 ** np.asarray(v)


def fig_x(px):
    return px / W


def fig_y(py):
    return 1 - py / H


def make_axes(fig, left, right, top, bottom):
    ax = fig.add_axes([left / W, 1 - bottom / H, (right - left) / W, (bottom - top) / H])
    ax.set_xscale("log", base=2)
    ax.set_xlim(to_funds(-0.235), to_funds(6.708))
    ax.set_xticks(to_funds(x_ticks_u), x_ticklabels)
    ax.set_xticks(to_funds(minor_u), minor=True)
    ax.xaxis.set_minor_formatter(matplotlib.ticker.NullFormatter())
    ax.tick_params(axis="x", which="both", length=3.9, width=0.7, labelsize=12.6, pad=4.5)
    ax.tick_params(axis="y", length=3.9, width=0.7, labelsize=12.6, pad=2.5)
    ax.spines[["top", "right"]].set_visible(False)
    ax.spines[["left", "bottom"]].set_linewidth(0.7)
    ax.grid(axis="y", color="#d9d9d9", lw=1.0)
    ax.set_axisbelow(True)
    return ax


def draw_panel(ax, points, rim, core_u, core_lo, core_hi, trend_u, trend_y, ytrans):
    pts = np.array(points + rim)
    ax.plot(to_funds(trend_u), ytrans(trend_y), color=DARK, lw=1.35, ls=(0, (3.0, 1.3)),
            dash_capstyle="butt", zorder=2, clip_on=False)
    # the core is overplotted so far that single points can't be read, so it is a filled band
    ax.fill_between(to_funds(core_u), ytrans(core_lo), ytrans(core_hi), color=TEAL, lw=0, zorder=3)
    ax.scatter(to_funds(pts[:, 0]), ytrans(pts[:, 1]), s=25, color=TEAL, linewidths=0, zorder=3, clip_on=False)


def same(y):
    return np.asarray(y)


LABEL_SIZE = 12.0
XLABEL_POS = 0.453

fig = plt.figure(figsize=(W / 300, H / 300), dpi=300)

ax_a = make_axes(fig, 309, 1874, 210, 1083)
ax_a.set_yscale("log", base=2)
ax_a.set_ylim(200, 6400)
ax_a.set_yticks([200, 400, 800, 1600, 3200, 6400], ["200", "400", "800", "1600", "3200", ">6400"])
ax_a.yaxis.set_minor_locator(matplotlib.ticker.NullLocator())
draw_panel(ax_a, a_points, a_rim, a_core_u, a_core_lo, a_core_hi, a_trend_u, a_trend_v, to_rev)
ax_a.set_xlabel("CARES Act funds per resident, $", fontsize=LABEL_SIZE, labelpad=6, x=XLABEL_POS)

ax_b = make_axes(fig, 2326, 3892, 210, 1083)
ax_b.set_ylim(-1, 3)
ax_b.set_yticks([-1, 0, 1, 2, 3], ["-1", "0", "1", "2", "≥3"])
draw_panel(ax_b, b_points, b_rim, b_core_u, b_core_lo, b_core_hi, b_trend_u, b_trend_z, same)
ax_b.set_xlabel("Relief funds per resident, $", fontsize=LABEL_SIZE, labelpad=6, x=XLABEL_POS)

ax_c = make_axes(fig, 309, 1874, 1516.5, 2389)
ax_c.set_ylim(-3, 4)
ax_c.set_yticks([-3, -2, -1, 0, 1, 2, 3, 4], ["-3", "-2", "-1", "0", "1", "2", "3", "4"])
draw_panel(ax_c, c_points, c_rim, c_core_u, c_core_lo, c_core_hi, c_trend_u, c_trend_z, same)
ax_c.set_xlabel("Relief funds per resident, $", fontsize=LABEL_SIZE, labelpad=6, x=XLABEL_POS)

ax_d = make_axes(fig, 2326, 3892, 1516.5, 2389)
ax_d.set_ylim(-2.25, 2)
ax_d.set_yticks([-2, -1, 0, 1, 2], ["≤2", "-1", "0", "1", "≥2"])
draw_panel(ax_d, d_points, d_rim, d_core_u, d_core_lo, d_core_hi, d_trend_u, d_trend_z, same)
ax_d.set_xlabel("Relief funds per resident, $", fontsize=LABEL_SIZE, labelpad=6, x=XLABEL_POS)

# y labels sit at fixed spots
z_it = r"$\mathit{z}$"
fig.text(fig_x(62), fig_y(646), "Estimated annual hospital net\nrevenue per resident, $", rotation=90,
         ha="center", va="center", fontsize=LABEL_SIZE, linespacing=1.1)
fig.text(fig_x(2189), fig_y(646), "COVID-19 mean " + z_it + " score", rotation=90,
         ha="center", va="center", fontsize=LABEL_SIZE)
fig.text(fig_x(174), fig_y(1952), "Comorbidity burden mean " + z_it + " score", rotation=90,
         ha="center", va="center", fontsize=LABEL_SIZE)
fig.text(fig_x(2192), fig_y(1926), "Hospital financial health mean " + z_it + " score", rotation=90,
         ha="center", va="center", fontsize=LABEL_SIZE)

# panel letters and titles
panels = [("A", "Revenue", 1, 104, 53), ("B", "COVID-19 burden", 2169, 2273, 53),
          ("C", "Comorbidity burden", 8, 112, 1360), ("D", "Hospital financial health", 2169, 2273, 1360)]
for letter, title, box_x, title_x, box_y in panels:
    fig.add_artist(Rectangle((fig_x(box_x), fig_y(box_y + 73)), 74 / W, 73 / H, transform=fig.transFigure,
                             fill=False, ec="#222222", lw=0.7))
    fig.text(fig_x(box_x + 37), fig_y(box_y + 37), letter, ha="center", va="center", fontsize=11.5, fontweight="bold")
    fig.text(fig_x(title_x), fig_y(box_y + 39), title, ha="left", va="center", fontsize=LABEL_SIZE)

r2_labels = [("0.37", 1866, 1027), ("0.13", 3874, 817), ("0.13", 1814, 2333), ("0.02", 3872, 2249)]
for val, rx, ry in r2_labels:
    fig.text(fig_x(rx), fig_y(ry), r"$\mathit{R}^{2}$" + "\u2009=\u2009" + val, ha="right", va="center", fontsize=13)

fig.savefig("out.png", dpi=300)
